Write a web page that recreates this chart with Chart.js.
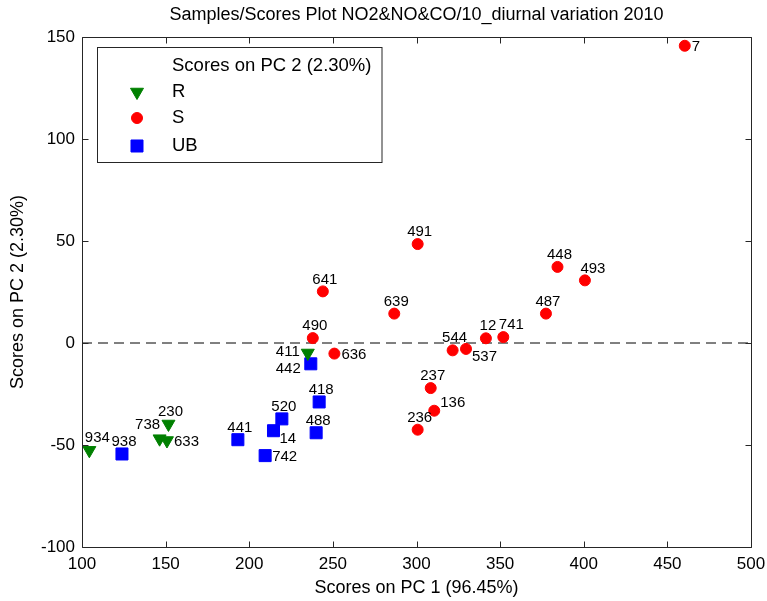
<!DOCTYPE html>
<html><head><meta charset="utf-8">
<script src="https://cdn.jsdelivr.net/npm/chart.js@4.4.1/dist/chart.umd.min.js"></script>
<style>html,body{margin:0;padding:0;background:#fff}#wrap{width:767px;height:601px;position:relative}canvas{display:block}</style>
</head><body><div id="wrap"><canvas id="c" width="767" height="601" style="width:767px;height:601px"></canvas></div>
<script>
// ---- text ----
const titleText = 'Samples/Scores Plot NO2&NO&CO/10_diurnal variation 2010';
const xAxisTitle = 'Scores on PC 1 (96.45%)';
const yAxisTitle = 'Scores on PC 2 (2.30%)';
const legendTitle = 'Scores on PC 2 (2.30%)';
const xTicks = [100, 150, 200, 250, 300, 350, 400, 450, 500];
const yTicks = [-100, -50, 0, 50, 100, 150];
const seriesNames = ['R', 'S', 'UB'];

// ---- series R ----
const rIds = ['934', '230', '738', '633', '411'];
const rX = [104.4, 151.7, 146.4, 150.8, 235.0];
const rY = [-52.6, -39.7, -46.9, -47.8, -4.9];
const rLabelSide = ['ne', 'n', 'nw', 'e', 'w'];

// ---- series S ----
const sIds = ['7', '491', '448', '493', '487', '641', '639', '490', '636', '544', '537', '12', '741', '237', '136', '236'];
const sX = [460.4, 300.7, 384.3, 400.7, 377.4, 244.0, 286.7, 238.0, 250.9, 321.6, 329.6, 341.5, 351.9, 308.5, 310.6, 300.7];
const sY = [145.7, 48.5, 37.3, 30.7, 14.4, 25.3, 14.4, 2.4, -5.2, -3.6, -2.9, 2.3, 2.9, -22.1, -33.2, -42.5];
const sLabelSide = ['e', 'n', 'n', 'ne', 'n', 'n', 'n', 'n', 'e', 'n', 'se', 'n', 'ne', 'n', 'ene', 'n'];

// ---- series UB ----
const ubIds = ['938', '441', '520', '14', '742', '442', '418', '488'];
const ubX = [123.9, 193.2, 219.5, 214.5, 209.5, 236.8, 241.8, 240.0];
const ubY = [-54.4, -47.4, -37.2, -43.0, -55.2, -10.2, -28.9, -44.0];
const ubLabelSide = ['n', 'n', 'n', 'se', 'e', 'sw', 'n', 'n'];

const zeroLevel = 0;

// ---- build ----
const FONT = '"Liberation Sans", Arial, Helvetica, sans-serif';
const pts = (xs, ys) => xs.map((x, i) => ({ x: x, y: ys[i] }));
const groups = [
  { ids: rIds, sides: rLabelSide },
  { ids: sIds, sides: sLabelSide },
  { ids: ubIds, sides: ubLabelSide }
];
const OFFSETS = {
  n:   { align: 'center', dx: 2,   dy: -12 },
  ne:  { align: 'center', dx: 8,   dy: -12 },
  nw:  { align: 'center', dx: -12, dy: -14 },
  e:   { align: 'left',   dx: 7,   dy: 1 },
  ene: { align: 'left',   dx: 6,   dy: -8 },
  se:  { align: 'left',   dx: 6,   dy: 8 },
  w:   { align: 'right',  dx: -8,  dy: -1 },
  sw:  { align: 'right',  dx: -10, dy: 5 }
};

const framePlugin = {
  id: 'frame',
  afterDatasetsDraw(chart) {
    const ctx = chart.ctx, a = chart.chartArea;
    const xs = chart.scales.x, ys = chart.scales.y;
    ctx.save();
    // data labels
    ctx.font = '15px ' + FONT;
    ctx.fillStyle = '#000';
    ctx.textBaseline = 'middle';
    groups.forEach((g, di) => {
      const meta = chart.getDatasetMeta(di);
      meta.data.forEach((el, i) => {
        const o = OFFSETS[g.sides[i]];
        ctx.textAlign = o.align;
        ctx.fillText(g.ids[i], el.x + o.dx, el.y + o.dy);
      });
    });
    // frame + inward ticks
    ctx.strokeStyle = '#262626';
    ctx.lineWidth = 1;
    const L = Math.round(a.left) + 0.5, R = Math.round(a.right) + 0.5;
    const T = Math.round(a.top) + 0.5, B = Math.round(a.bottom) + 0.5;
    ctx.beginPath();
    ctx.rect(L, T, R - L, B - T);
    const tl = 6;
    xTicks.forEach(v => {
      const px = Math.round(xs.getPixelForValue(v)) + 0.5;
      ctx.moveTo(px, B); ctx.lineTo(px, B - tl);
      ctx.moveTo(px, T); ctx.lineTo(px, T + tl);
    });
    yTicks.forEach(v => {
      const py = Math.round(ys.getPixelForValue(v)) + 0.5;
      ctx.moveTo(L, py); ctx.lineTo(L + tl, py);
      ctx.moveTo(R, py); ctx.lineTo(R - tl, py);
    });
    ctx.stroke();
    // legend box
    const bx = 97.5, by = 47.5, bw = 284.5, bh = 115;
    ctx.fillStyle = '#fff';
    ctx.fillRect(bx, by, bw, bh);
    ctx.strokeRect(bx, by, bw, bh);
    ctx.fillStyle = '#000';
    ctx.font = '18.5px ' + FONT;
    ctx.textAlign = 'left';
    ctx.textBaseline = 'middle';
    ctx.fillText(legendTitle, 172, 66);
    const rowsY = [92, 118, 146];
    chart.data.datasets.slice(0, 3).forEach((ds, i) => {
      ctx.fillStyle = ds.backgroundColor;
      ctx.strokeStyle = ds.borderColor;
      ctx.lineWidth = ds.borderWidth;
      Chart.helpers.drawPoint(ctx, {
        pointStyle: ds.pointStyle, rotation: ds.rotation || 0,
        radius: ds.pointRadius, borderWidth: ds.borderWidth
      }, 137, rowsY[i]);
      ctx.fillStyle = '#000';
      ctx.fillText(ds.label, 172, rowsY[i]);
    });
    ctx.restore();
  }
};

new Chart(document.getElementById('c'), {
  type: 'scatter',
  data: {
    datasets: [
      { label: seriesNames[0], data: pts(rX, rY), pointStyle: 'triangle', rotation: 180,
        pointRadius: 7.5, backgroundColor: '#008000', borderColor: '#008000', borderWidth: 1, order: 1 },
      { label: seriesNames[1], data: pts(sX, sY), pointStyle: 'circle',
        pointRadius: 5.5, backgroundColor: '#ff0000', borderColor: '#ff0000', borderWidth: 1, order: 1 },
      { label: seriesNames[2], data: pts(ubX, ubY), pointStyle: 'rect',
        pointRadius: 8.5, backgroundColor: '#0000ff', borderColor: '#0000ff', borderWidth: 1, order: 1 },
      { type: 'line', label: 'zero', data: [{ x: xTicks[0], y: zeroLevel }, { x: xTicks[xTicks.length - 1], y: zeroLevel }],
        borderColor: '#000', borderWidth: 1, borderDash: [10, 6], pointRadius: 0, fill: false, order: 10 }
    ]
  },
  options: {
    responsive: false,
    maintainAspectRatio: false,
    animation: false,
    devicePixelRatio: 1,
    clip: false,
    layout: { padding: { left: 0, right: 16, top: 0, bottom: 0 } },
    plugins: {
      legend: { display: false },
      tooltip: { enabled: false },
      title: {
        display: true, text: titleText, fullSize: false, color: '#000',
        font: { family: FONT, size: 18, weight: 'normal', lineHeight: 1.2 },
        padding: { top: 4, bottom: 11.4 }
      }
    },
    scales: {
      x: {
        type: 'linear', min: xTicks[0], max: xTicks[xTicks.length - 1],
        afterBuildTicks: s => { s.ticks = xTicks.map(v => ({ value: v })); },
        grid: { display: false, drawTicks: false }, border: { display: false },
        ticks: { color: '#000', font: { family: FONT, size: 17 }, padding: 7, maxRotation: 0, autoSkip: false },
        title: { display: true, text: xAxisTitle, color: '#000', font: { family: FONT, size: 18, lineHeight: 1.2 }, padding: { top: 0, bottom: 2 } },
        afterFit: s => { s.height = 54; s.paddingLeft = 0; s.paddingRight = 0; }
      },
      y: {
        type: 'linear', min: yTicks[0], max: yTicks[yTicks.length - 1],
        afterBuildTicks: s => { s.ticks = yTicks.map(v => ({ value: v })); },
        grid: { display: false, drawTicks: false }, border: { display: false },
        ticks: { color: '#000', font: { family: FONT, size: 17 }, padding: 7, autoSkip: false },
        title: { display: true, text: yAxisTitle, color: '#000', font: { family: FONT, size: 18, lineHeight: 1.2 }, padding: { top: 7, bottom: 0 } },
        afterFit: s => { s.width = 82; s.paddingTop = 0; s.paddingBottom = 0; }
      }
    }
  },
  plugins: [framePlugin]
});
</script>
</body></html>
